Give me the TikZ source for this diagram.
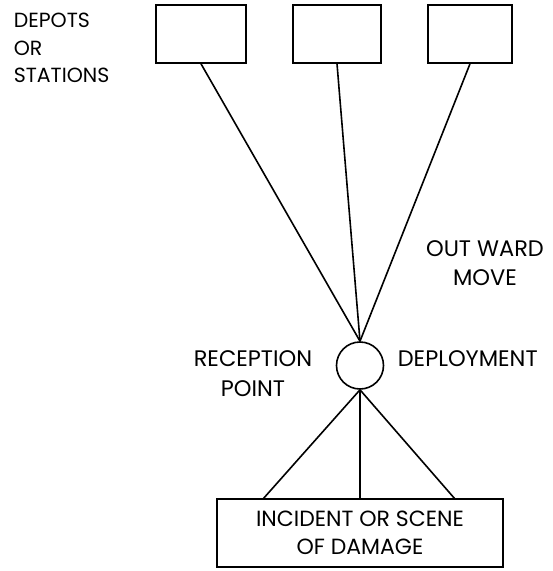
\documentclass[tikz,border=0pt]{standalone}
\usepackage{fontspec}
\setmainfont{Poppins}
\begin{document}
\begin{tikzpicture}[x=1pt, y=-1pt, line width=1.6pt,
        depot/.style={draw, minimum height=58pt, inner sep=0pt},
        lbl/.style={font=\fontsize{22.5}{29}\selectfont, align=center, inner sep=0pt, anchor=north}]
            \useasboundingbox (0,0) rectangle (553,571);
            \node[depot, minimum width=90pt] (d1) at (201,34) {};
            \node[depot, minimum width=88pt] (d2) at (337,34) {};
            \node[depot, minimum width=84pt] (d3) at (470,34) {};
            \node[draw, circle, minimum size=47pt, inner sep=0pt] (rp) at (360,365.5) {};
            \node[draw, minimum width=286pt, minimum height=68pt, lbl, anchor=center,
                font=\fontsize{22}{28}\selectfont] (inc) at (360,533)
            {INCIDENT OR SCENE\\OF DAMAGE};
            \coordinate (il) at (263,499);
            \coordinate (ir) at (455,499);
            \draw (d1.south) -- (rp.north);
            \draw (d2.south) -- (rp.north);
            \draw (d3.south) -- (rp.north);
            \draw (rp.south) -- (il);
            \draw (rp.south) -- (inc.north);
            \draw (rp.south) -- (ir);
            \node[lbl, align=left, anchor=north west, font=\fontsize{20.5}{27.5}\selectfont]
                (dep) at (13,12.7) {DEPOTS\\OR\\STATIONS};
            \node[lbl] (out) at (485,240) {OUT WARD\\MOVE};
            \node[lbl, font=\fontsize{22.5}{30}\selectfont] (rec) at (253,350) {RECEPTION\\POINT};
            \node[lbl, anchor=north west] (dpl) at (397,350) {DEPLOYMENT};
        \end{tikzpicture}
\end{document}
